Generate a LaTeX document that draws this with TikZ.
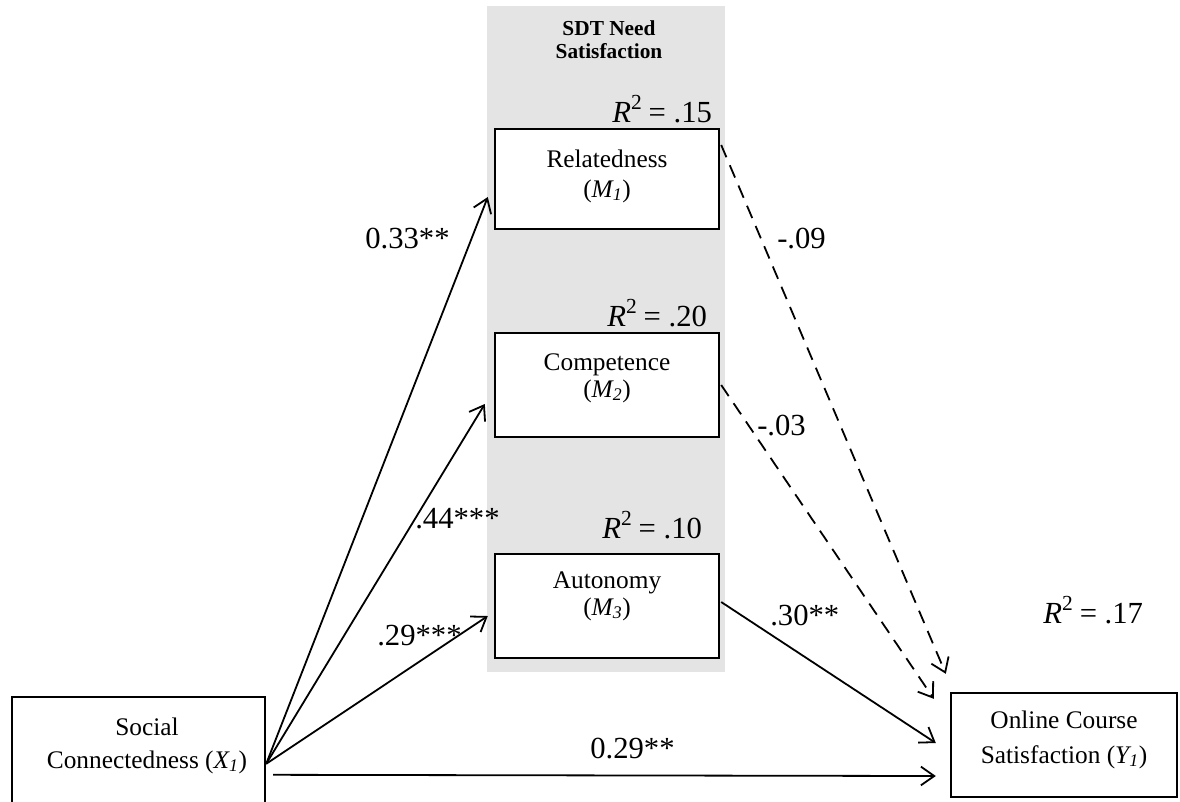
\documentclass[tikz,border=0pt]{standalone}
\usepackage{fontspec}
\setmainfont{Liberation Serif}
\usetikzlibrary{arrows.meta,calc}
\definecolor{bandgray}{RGB}{228,228,228}
\begin{document}
\begin{tikzpicture}[x=0.75pt,y=-0.75pt,
  box/.style={draw,line width=1.8pt,fill=white,inner sep=0pt},
  boxtxt/.style={font=\fontsize{19}{22}\selectfont,anchor=base,inner sep=0pt},
  titletxt/.style={font=\fontsize{16}{18}\selectfont\bfseries,anchor=base,inner sep=0pt},
  coef/.style={font=\fontsize{23}{27}\selectfont,anchor=base west,inner sep=0pt},
  arr/.style={line width=1.35pt,-{Straight Barb[length=10pt,width=14pt]}},
  darr/.style={arr,dash pattern=on 10pt off 6.5pt}]
\useasboundingbox (0,0) rectangle (1180,801);
\clip (0,0) rectangle (1180,801);
\fill[white] (0,0) rectangle (1180,801);
\fill[bandgray] (487,6) rectangle (725,672);

% title
\node[titletxt] (t1) at (609,35) {SDT Need};
\node[titletxt] (t2) at (609,58) {Satisfaction};

% boxes
\node[box,minimum width=168pt,minimum height=75pt] (M1) at (607,179) {};
\node[box,minimum width=168pt,minimum height=78pt] (M2) at (607,385) {};
\node[box,minimum width=168pt,minimum height=78pt] (M3) at (607,606) {};
\node[box,minimum width=189.75pt,minimum height=122.25pt] (X) at (138.5,778.5) {};
\node[box,minimum width=169.5pt,minimum height=78pt] (Y) at (1064,745) {};

% box texts
\node[boxtxt] (M1a) at (607,167) {Relatedness};
\node[boxtxt] (M1b) at (607,197) {(\textit{M\textsubscript{1}})};
\node[boxtxt] (M2a) at (607,370) {Competence};
\node[boxtxt] (M2b) at (607,397) {(\textit{M\textsubscript{2}})};
\node[boxtxt] (M3a) at (607,588) {Autonomy};
\node[boxtxt] (M3b) at (607,615) {(\textit{M\textsubscript{3}})};
\node[boxtxt] (Xa) at (147,735) {Social};
\node[boxtxt] (Xb) at (147,768) {Connectedness (\textit{X\textsubscript{1}})};
\node[boxtxt] (Ya) at (1064,728) {Online Course};
\node[boxtxt] (Yb) at (1064,763) {Satisfaction (\textit{Y\textsubscript{1}})};

% R squared
\node[coef] (r1) at (612,122) {\textit{R}\textsuperscript{2}\hspace{-1pt} = .15};
\node[coef] (r2) at (607,326) {\textit{R}\textsuperscript{2}\hspace{-1pt} = .20};
\node[coef] (r3) at (602,538) {\textit{R}\textsuperscript{2}\hspace{-1pt} = .10};
\node[coef] (r4) at (1043,623) {\textit{R}\textsuperscript{2}\hspace{-1pt} = .17};

% connector end points
\coordinate (xs) at ($(X.north east)+(0,68)$);
\coordinate (xh) at ($(X.north east)+(7,79)$);
\coordinate (yh) at ($(Y.west)+(-14,31)$);
\coordinate (m1in) at ($(M1.west)+(-6,18)$);
\coordinate (m2in) at ($(M2.west)+(-9,19)$);
\coordinate (m3in) at ($(M3.west)+(-6,10)$);
\coordinate (m1out) at ($(M1.east)+(1,-34)$);
\coordinate (m2out) at ($(M2.east)+(1,0)$);
\coordinate (m3out) at ($(M3.east)+(1,-4)$);
\coordinate (y1in) at ($(Y.north west)+(-4,-18)$);
\coordinate (y2in) at ($(Y.north west)+(-16,7)$);
\coordinate (y3in) at ($(Y.west)+(-14,-2)$);

% connectors
\draw[arr] (xs) -- (m1in);
\draw[arr] (xs) -- (m2in);
\draw[arr] (xs) -- (m3in);
\draw[arr] (xh) -- (yh);
\draw[darr] (m1out) -- (y1in);
\draw[darr] (m2out) -- (y2in);
\draw[arr] (m3out) -- (y3in);

% coefficients
\node[coef] (c1) at (365,248) {0.33**};
\node[coef] (c2) at (777,248) {-.09};
\node[coef] (c3) at (757,435) {-.03};
\node[coef] (c4) at (415,528) {.44***};
\node[coef] (c5) at (377,645) {.29***};
\node[coef] (c6) at (770,625) {.30**};
\node[coef] (c7) at (590,758) {0.29**};
\end{tikzpicture}
\end{document}
